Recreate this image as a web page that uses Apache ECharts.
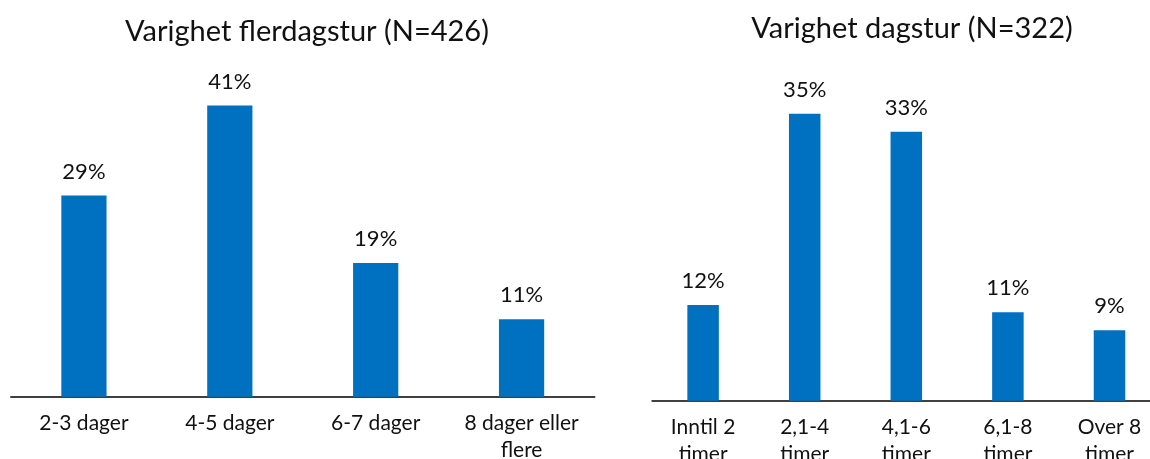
<!DOCTYPE html>
<html>
<head>
<meta charset="utf-8">
<title>Varighet</title>
<script src="https://cdn.jsdelivr.net/npm/echarts@6/dist/echarts.min.js"></script>
<style>
    html, body {margin: 0; padding: 0; background: #fff;}
    #main {width: 1150px; height: 459px;}
</style>
</head>
<body>
<div id="main"></div>
<script>
// flerdagstur
var flerKategorier = ['2-3 dager', '4-5 dager', '6-7 dager', '8 dager eller\nflere'];
var flerAndel = [28.6, 41.4, 19.0, 11.0];
// dagstur
var dagKategorier = ['Inntil 2\ntimer', '2,1-4\ntimer', '4,1-6\ntimer', '6,1-8\ntimer', 'Over 8\ntimer'];
var dagAndel = [11.8, 35.4, 33.2, 10.9, 8.7];

var fontFam = 'Lato, "Noto Sans", sans-serif';
var barColor = '#0070C0';

var myChart = echarts.init(document.getElementById('main'), null, {renderer: 'canvas'});

function xAxisFor(idx, data) {
    return {
        type: 'category',
        gridIndex: idx,
        data: data,
        axisLine: {show: true, lineStyle: {color: '#404040', width: 2}},
        axisTick: {show: false},
        axisLabel: {
            color: '#111',
            fontFamily: fontFam,
            fontSize: 21,
            lineHeight: 27,
            margin: 13,
            interval: 0
        }
    };
}

function yAxisFor(idx, max) {
    return {
        type: 'value',
        gridIndex: idx,
        min: 0,
        max: max,
        show: false,
        splitLine: {show: false}
    };
}

function serieFor(idx, data) {
    return {
        type: 'bar',
        xAxisIndex: idx,
        yAxisIndex: idx,
        data: data,
        barWidth: '31%',
        itemStyle: {color: barColor},
        label: {
            show: true,
            position: 'top',
            distance: 13,
            color: '#111',
            fontFamily: fontFam,
            fontSize: 22,
            formatter: function (p) {
                return Math.round(p.value) + '%';
            }
        }
    };
}

var option = {
    animation: false,
    backgroundColor: '#fff',
    title: [{
        text: 'Varighet flerdagstur (N=426)',
        left: 302,
        textAlign: 'center',
        top: 12,
        textStyle: {color: '#111', fontFamily: fontFam, fontSize: 29, fontWeight: 'normal'}
    }, {
        text: 'Varighet dagstur (N=322)',
        left: 907,
        textAlign: 'center',
        top: 9,
        textStyle: {color: '#111', fontFamily: fontFam, fontSize: 29, fontWeight: 'normal'}
    }],
    grid: [
        {left: 11, top: 45, width: 583.5, height: 351.7, outerBoundsMode: 'none'},
        {left: 652.3, top: 36, width: 508, height: 364.7, outerBoundsMode: 'none'}
    ],
    xAxis: [xAxisFor(0, flerKategorier), xAxisFor(1, dagKategorier)],
    yAxis: [yAxisFor(0, 50), yAxisFor(1, 45)],
    series: [serieFor(0, flerAndel), serieFor(1, dagAndel)]
};

myChart.setOption(option);
</script>
</body>
</html>
